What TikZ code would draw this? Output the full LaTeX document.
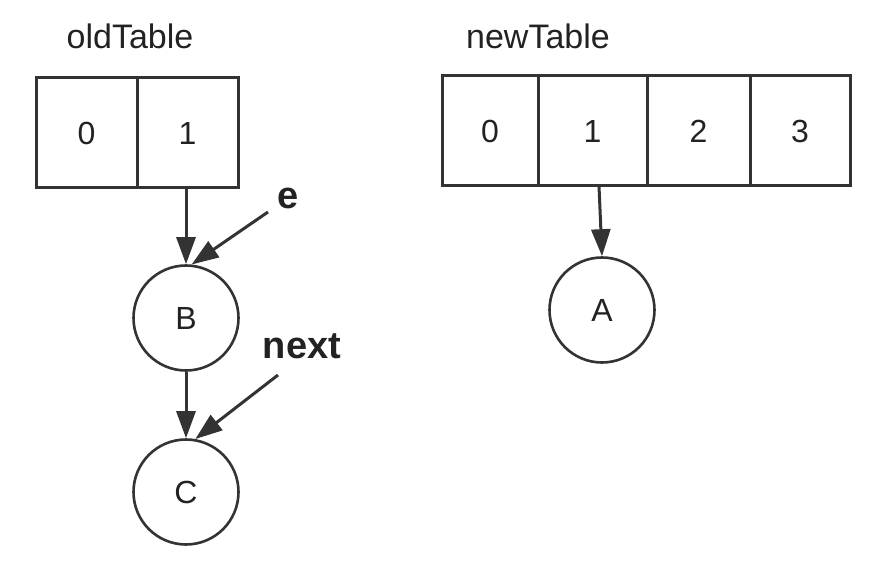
\documentclass[tikz,border=0pt]{standalone}
\usepackage{fontspec}
\setmainfont{Liberation Sans}
\usetikzlibrary{arrows.meta}
\definecolor{ink}{HTML}{333333}
\definecolor{txt}{HTML}{222222}
\begin{document}
\begin{tikzpicture}[x=1pt,y=-1pt,
  cell/.style={draw=ink,line width=3pt,rectangle,inner sep=0pt,minimum height=110pt,text=txt,font=\fontsize{32}{32}\selectfont},
  circ/.style={draw=ink,line width=2.6pt,circle,inner sep=0pt,minimum size=105pt,text=txt,font=\fontsize{32}{32}\selectfont},
  arr/.style={draw=ink,line width=3pt,-{Triangle[length=27pt,width=19pt]}},
  title/.style={text=txt,font=\fontsize{34}{34}\selectfont},
  pointer/.style={text=txt,font=\bfseries\fontsize{38}{38}\selectfont}]
\useasboundingbox (0,0) rectangle (894,572);
% old table
\node[title] (oldT) at (130,36) {oldTable};
\node[cell,minimum width=101pt] (o0) at (86.5,133) {0};
\node[cell,minimum width=101pt] (o1) at (187.5,133) {1};
% new table
\node[title] (newT) at (538,36) {newTable};
\node[cell,minimum width=96pt] (n0) at (490,131) {0};
\node[cell,minimum width=109pt] (n1) at (592.5,131) {1};
\node[cell,minimum width=103pt] (n2) at (698.5,131) {2};
\node[cell,minimum width=100pt] (n3) at (800,131) {3};
% chain nodes
\node[circ] (B) at (186,318) {B};
\node[circ] (C) at (186,492) {C};
\node[circ] (A) at (602,310) {A};
% pointer labels
\node[pointer] (e) at (288,198) {e};
\node[pointer] (nx) at (302,346) {next};
\coordinate (et) at (268,212);
\coordinate (nt) at (278,375);
% arrows
\draw[arr] (186,188) -- (B.north);
\draw[arr] (et) -- (B.84);
\draw[arr] (B.south) -- (C.north);
\draw[arr] (nt) -- (C.80);
\draw[arr] (599,186) -- (A.north);
\end{tikzpicture}
\end{document}
